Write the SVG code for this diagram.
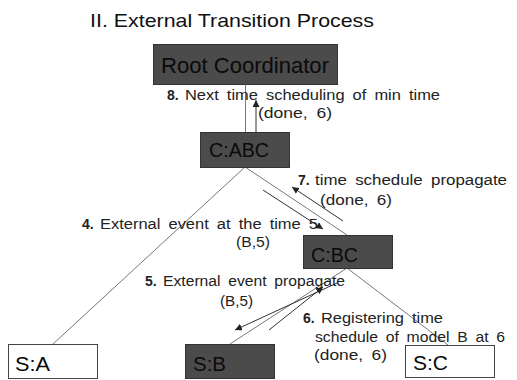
<svg xmlns="http://www.w3.org/2000/svg" width="517" height="380" viewBox="0 0 517 380">
  <style>
    text { font-family: "Liberation Sans", Arial, sans-serif; fill: #111; }
    .title { font-size: 19px; }
    .dark { fill: #4b4b4b; stroke: #333; stroke-width: 1; }
    .light { fill: #fff; stroke: #444; stroke-width: 1; }
    .nodetxt { font-size: 20px; fill: #0a0a0a; }
    .lbl { font-size: 14px; fill: #222; word-spacing: 3px; }
    .num { font-weight: bold; word-spacing: 0; }
    .tree { stroke: #777; stroke-width: 1; fill: none; }
    .msg { stroke: #333; stroke-width: 1; fill: none; marker-end: url(#ah); }
  </style>
  <defs>
    <marker id="ah" viewBox="0 0 10 10" refX="10" refY="5" markerWidth="7" markerHeight="7" orient="auto" markerUnits="userSpaceOnUse">
      <path d="M0,0 L10,5 L0,10 z" fill="#222"/>
    </marker>
  </defs>

  <rect width="517" height="380" fill="#fff"/>

  <text class="title" x="90" y="27" textLength="284" lengthAdjust="spacingAndGlyphs">II. External Transition Process</text>

  <!-- connectors: hierarchy lines and message arrows -->
  <g id="connectors">
    <line class="tree" x1="245.5" y1="84" x2="245.5" y2="132" stroke="#333"/>
    <line class="tree" x1="245" y1="167" x2="53" y2="344"/>
    <line class="tree" x1="245" y1="167" x2="347" y2="235"/>
    <line class="tree" x1="347" y1="268" x2="230" y2="344"/>
    <line class="tree" x1="347" y1="268" x2="448" y2="345"/>

    <line class="msg" x1="256" y1="132" x2="256" y2="100"/>
    <line class="msg" x1="343" y1="221" x2="292" y2="187"/>
    <line class="msg" x1="263" y1="190" x2="323" y2="229"/>
    <line class="msg" x1="337" y1="283" x2="235" y2="330"/>
    <line class="msg" x1="269" y1="330" x2="323" y2="287"/>
  </g>

  <g id="root">
    <rect class="dark" x="153.5" y="44.5" width="184" height="40"/>
    <text class="nodetxt" x="161" y="73" style="font-size:22px" textLength="168" lengthAdjust="spacingAndGlyphs">Root Coordinator</text>
  </g>

  <g id="c-abc">
    <rect class="dark" x="200.5" y="132.5" width="89" height="35"/>
    <text class="nodetxt" x="209" y="157" textLength="60" lengthAdjust="spacingAndGlyphs">C:ABC</text>
  </g>

  <g id="c-bc">
    <rect class="dark" x="303.5" y="235.5" width="89" height="33"/>
    <text class="nodetxt" x="311" y="262" textLength="47" lengthAdjust="spacingAndGlyphs">C:BC</text>
  </g>

  <g id="s-a">
    <rect class="light" x="8.5" y="344.5" width="89" height="34"/>
    <text class="nodetxt" x="15" y="371" textLength="35" lengthAdjust="spacingAndGlyphs">S:A</text>
  </g>

  <g id="s-b">
    <rect class="dark" x="185.5" y="344.5" width="89" height="34"/>
    <text class="nodetxt" x="193" y="371" textLength="33" lengthAdjust="spacingAndGlyphs">S:B</text>
  </g>

  <g id="s-c">
    <rect class="light" x="405.5" y="345.5" width="89" height="32"/>
    <text class="nodetxt" x="413" y="370" textLength="35" lengthAdjust="spacingAndGlyphs">S:C</text>
  </g>

  <!-- message labels -->
  <g id="labels">
    <text class="lbl num" x="167" y="100">8.</text>
    <text class="lbl" x="185" y="100" textLength="255" lengthAdjust="spacingAndGlyphs">Next time scheduling of min time</text>
    <text class="lbl" x="258" y="118" textLength="74" lengthAdjust="spacingAndGlyphs">(done, 6)</text>

    <text class="lbl num" x="298" y="185">7.</text>
    <text class="lbl" x="315" y="185" textLength="192" lengthAdjust="spacingAndGlyphs">time schedule propagate</text>
    <text class="lbl" x="320" y="205" textLength="72" lengthAdjust="spacingAndGlyphs">(done, 6)</text>

    <text class="lbl num" x="82" y="229">4.</text>
    <text class="lbl" x="100" y="229" textLength="218" lengthAdjust="spacingAndGlyphs">External event at the time 5</text>
    <text class="lbl" x="236" y="247" textLength="34" lengthAdjust="spacingAndGlyphs">(B,5)</text>

    <text class="lbl num" x="145" y="286">5.</text>
    <text class="lbl" x="163" y="286" textLength="182" lengthAdjust="spacingAndGlyphs">External event propagate</text>
    <text class="lbl" x="220" y="306" textLength="33" lengthAdjust="spacingAndGlyphs">(B,5)</text>

    <text class="lbl num" x="303" y="323">6.</text>
    <text class="lbl" x="321" y="323" textLength="122" lengthAdjust="spacingAndGlyphs">Registering time</text>
    <text class="lbl" x="315" y="342" textLength="190" lengthAdjust="spacingAndGlyphs">schedule of model B at 6</text>
    <text class="lbl" x="314" y="360" textLength="73" lengthAdjust="spacingAndGlyphs">(done, 6)</text>
  </g>
</svg>
